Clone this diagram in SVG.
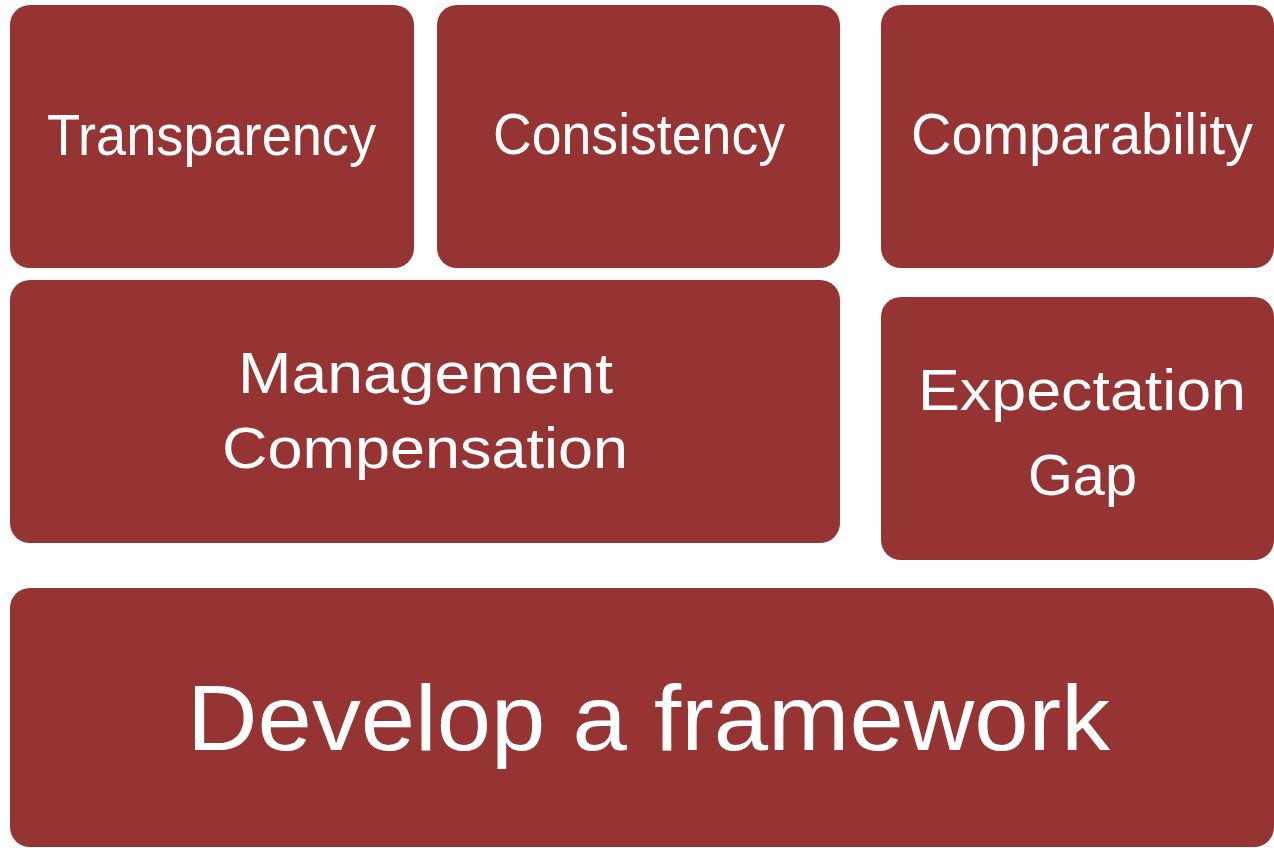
<svg xmlns="http://www.w3.org/2000/svg" width="1274" height="848" viewBox="0 0 1274 848">
<style>
.box{fill:#963333}
.t{fill:#ffffff;font-family:"Liberation Sans","Open Sans",sans-serif;text-anchor:middle}
.s{font-size:58px}
.b{font-size:92px}
</style>
<rect width="1274" height="848" fill="#ffffff"/>
<g id="transparency"><rect class="box" x="10" y="5" width="404" height="263" rx="20"/><text class="t s" x="211.5" y="155" textLength="329" lengthAdjust="spacingAndGlyphs">Transparency</text></g>
<g id="consistency"><rect class="box" x="437" y="5" width="403" height="263" rx="20"/><text class="t s" x="639" y="154" textLength="292" lengthAdjust="spacingAndGlyphs">Consistency</text></g>
<g id="comparability"><rect class="box" x="881" y="5" width="393" height="263" rx="20"/><text class="t s" x="1082" y="154" textLength="342" lengthAdjust="spacingAndGlyphs">Comparability</text></g>
<g id="management"><rect class="box" x="10" y="280" width="830" height="263" rx="20"/><text class="t s" x="425.5" y="393" textLength="375" lengthAdjust="spacingAndGlyphs">Management</text><text class="t s" x="425" y="468" textLength="406" lengthAdjust="spacingAndGlyphs">Compensation</text></g>
<g id="expectation"><rect class="box" x="881" y="297" width="393" height="263" rx="20"/><text class="t s" x="1082" y="410" textLength="328" lengthAdjust="spacingAndGlyphs">Expectation</text><text class="t s" x="1082.5" y="495" textLength="109" lengthAdjust="spacingAndGlyphs">Gap</text></g>
<g id="framework"><rect class="box" x="10" y="588" width="1264" height="259" rx="20"/><text class="t b" x="648.5" y="750" textLength="923" lengthAdjust="spacingAndGlyphs">Develop a framework</text></g>
<g id="connectors"/>
</svg>
